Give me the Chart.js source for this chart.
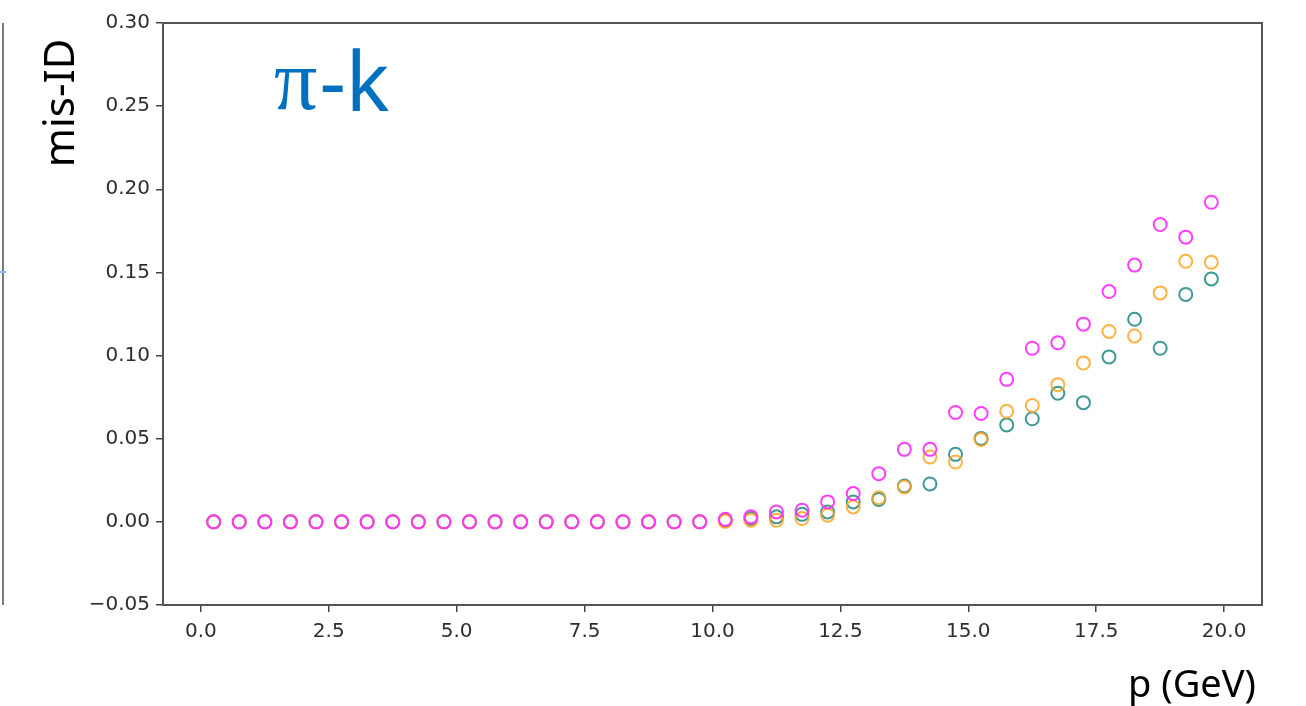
<!DOCTYPE html>
<html>
<head>
<meta charset="utf-8">
<title>π-k mis-ID vs momentum</title>
<script src="https://cdn.jsdelivr.net/npm/chart.js@4/dist/chart.umd.min.js"></script>
<style>
  html, body { margin: 0; padding: 0; background: #ffffff; }
  #wrap { width: 1306px; height: 706px; position: relative; }
  canvas { display: block; }
</style>
</head>
<body>
<div id="wrap"><canvas id="chart" width="1306" height="706"></canvas></div>
<script>
// Momentum bin centres (GeV)
const momentum = [
  0.25, 0.75, 1.25, 1.75, 2.25, 2.75, 3.25, 3.75, 4.25, 4.75,
  5.25, 5.75, 6.25, 6.75, 7.25, 7.75, 8.25, 8.75, 9.25, 9.75,
  10.25, 10.75, 11.25, 11.75, 12.25, 12.75, 13.25, 13.75, 14.25, 14.75,
  15.25, 15.75, 16.25, 16.75, 17.25, 17.75, 18.25, 18.75, 19.25, 19.75
];

// mis-ID rates per bin
const misIdMagenta = [
  0, 0, 0, 0, 0, 0, 0, 0, 0, 0,
  0, 0, 0, 0, 0, 0, 0, 0, 0, 0,
  0.0015, 0.003, 0.006, 0.007, 0.012, 0.017, 0.029, 0.0436, 0.0436, 0.0658,
  0.0652, 0.0857, 0.1044, 0.1077, 0.1189, 0.1385, 0.1544, 0.1788, 0.1712, 0.1922
];
const misIdOrange = [
  0, 0, 0, 0, 0, 0, 0, 0, 0, 0,
  0, 0, 0, 0, 0, 0, 0, 0, 0, 0,
  0.0003, 0.001, 0.001, 0.002, 0.004, 0.009, 0.0145, 0.021, 0.039, 0.036,
  0.0495, 0.0665, 0.070, 0.0825, 0.0955, 0.1145, 0.1118, 0.1377, 0.1567, 0.1561
];
const misIdTeal = [
  0, 0, 0, 0, 0, 0, 0, 0, 0, 0,
  0, 0, 0, 0, 0, 0, 0, 0, 0, 0,
  0.001, 0.002, 0.003, 0.0045, 0.006, 0.012, 0.0135, 0.0216, 0.0228, 0.0406,
  0.0502, 0.0583, 0.062, 0.0774, 0.0717, 0.0992, 0.1218, 0.1044, 0.1368, 0.1461
];

// Axis ticks
const xTickValues = [0, 2.5, 5, 7.5, 10, 12.5, 15, 17.5, 20];
const yTickValues = [-0.05, 0, 0.05, 0.10, 0.15, 0.20, 0.25, 0.30];

const toPoints = (ys) => momentum.map((p, i) => ({ x: p, y: ys[i] }));

const tickFont = { family: 'DejaVu Sans', size: 20 };
const tickColor = '#2e2e2e';

// Frame, axis titles and panel annotations drawn on the canvas
const decorations = {
  id: 'decorations',
  afterDraw(chart) {
    const { ctx, chartArea: a } = chart;
    ctx.save();

    // plot frame
    ctx.strokeStyle = '#555555';
    ctx.lineWidth = 2;
    ctx.strokeRect(a.left, a.top, a.right - a.left, a.bottom - a.top);

    // edge of the neighbouring panel on the left
    ctx.strokeStyle = '#7a7a7a';
    ctx.lineWidth = 2;
    ctx.beginPath();
    ctx.moveTo(3, a.top);
    ctx.lineTo(3, a.bottom);
    ctx.stroke();
    ctx.strokeStyle = '#8fb4e0';
    ctx.lineWidth = 2;
    ctx.beginPath();
    ctx.moveTo(0, 272);
    ctx.lineTo(6, 272);
    ctx.stroke();

    // y-axis title
    ctx.fillStyle = '#000000';
    ctx.font = '42px "Noto Sans"';
    ctx.textAlign = 'center';
    ctx.textBaseline = 'alphabetic';
    ctx.translate(74, 103);
    ctx.rotate(-Math.PI / 2);
    ctx.fillText('mis-ID', 0, 0);
    ctx.setTransform(1, 0, 0, 1, 0, 0);

    // x-axis title
    ctx.textAlign = 'right';
    ctx.font = '38px "Noto Sans"';
    ctx.fillText('p (GeV)', 1256, 697);

    // panel label
    ctx.fillStyle = '#0070C0';
    ctx.textAlign = 'left';
    ctx.font = '86px "Liberation Serif"';
    ctx.fillText('π', 274, 109);
    const piW = ctx.measureText('π').width;
    ctx.font = '82px "Noto Sans"';
    ctx.fillText('-k', 274 + piW + 2, 111);

    ctx.restore();
  }
};

const ringStyle = (color, order) => ({
  showLine: false,
  pointStyle: 'circle',
  pointRadius: 6.5,
  pointHoverRadius: 6.5,
  pointBorderWidth: 2,
  borderWidth: 2,
  borderColor: color,
  pointBorderColor: color,
  backgroundColor: 'rgba(0,0,0,0)',
  pointBackgroundColor: 'rgba(0,0,0,0)',
  order: order
});

new Chart(document.getElementById('chart'), {
  type: 'scatter',
  data: {
    datasets: [
      Object.assign({ label: 'magenta', data: toPoints(misIdMagenta) }, ringStyle('rgba(255,51,255,0.95)', 0)),
      Object.assign({ label: 'orange', data: toPoints(misIdOrange) }, ringStyle('rgba(255,165,30,0.85)', 1)),
      Object.assign({ label: 'teal', data: toPoints(misIdTeal) }, ringStyle('rgba(30,135,130,0.85)', 2))
    ]
  },
  options: {
    responsive: false,
    devicePixelRatio: 1,
    animation: false,
    events: [],
    layout: { padding: { top: 23, right: 44, bottom: 0, left: 0 } },
    plugins: {
      legend: { display: false },
      tooltip: { enabled: false },
      title: { display: false }
    },
    scales: {
      x: {
        type: 'linear',
        min: -0.74,
        max: 20.74,
        afterBuildTicks: (axis) => { axis.ticks = xTickValues.map(v => ({ value: v })); },
        afterFit: (scale) => { scale.height = 101; },
        ticks: {
          autoSkip: false,
          maxRotation: 0,
          padding: 8,
          color: tickColor,
          font: tickFont,
          callback: (v) => Number(v).toFixed(1)
        },
        grid: { drawOnChartArea: false, drawTicks: true, tickLength: 7, color: '#444444', lineWidth: 1.5 },
        border: { display: false }
      },
      y: {
        type: 'linear',
        min: -0.05,
        max: 0.30,
        afterBuildTicks: (axis) => { axis.ticks = yTickValues.map(v => ({ value: v })); },
        afterFit: (scale) => { scale.width = 163; },
        ticks: {
          autoSkip: false,
          padding: 6,
          color: tickColor,
          font: tickFont,
          callback: (v) => (v < 0 ? '\u2212' + Math.abs(v).toFixed(2) : Number(v).toFixed(2))
        },
        grid: { drawOnChartArea: false, drawTicks: true, tickLength: 7, color: '#444444', lineWidth: 1.5 },
        border: { display: false }
      }
    }
  },
  plugins: [decorations]
});
</script>
</body>
</html>
